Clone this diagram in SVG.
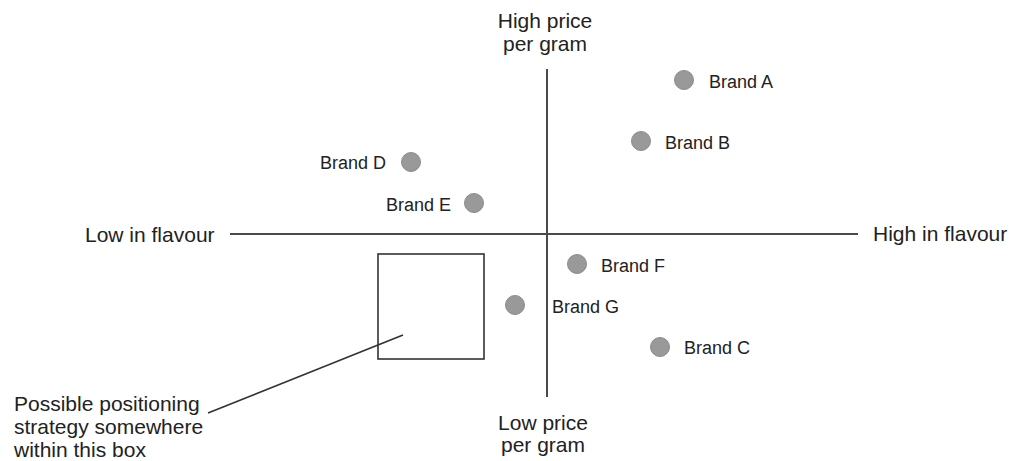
<svg xmlns="http://www.w3.org/2000/svg" width="1014" height="461" viewBox="0 0 1014 461">
  <style>
    .axis { stroke: #4a4a4a; stroke-width: 2; fill: none; }
    .lbl { font-family: "Liberation Sans", Arial, sans-serif; font-size: 21px; fill: #222; }
    .brand { font-family: "Liberation Sans", Arial, sans-serif; font-size: 18px; fill: #222; }
    .dot { fill: #999; stroke: #8c8c8c; stroke-width: 1; }
    .box { fill: none; stroke: #333; stroke-width: 1.6; }
    .leader { stroke: #333; stroke-width: 1.6; fill: none; }
  </style>
  <rect width="1014" height="461" fill="#fff"/>

  <!-- axes and leader line -->
  <g id="connectors">
    <line class="axis" x1="547" y1="69" x2="547" y2="397"/>
    <line class="axis" x1="230" y1="234" x2="858" y2="234"/>
    <line class="leader" x1="403" y1="335" x2="208" y2="413"/>
  </g>

  <!-- axis labels -->
  <g id="axis-top">
    <text class="lbl" text-anchor="middle" x="545" y="28">High price</text>
    <text class="lbl" text-anchor="middle" x="545" y="51">per gram</text>
  </g>
  <g id="axis-bottom">
    <text class="lbl" text-anchor="middle" x="543" y="430">Low price</text>
    <text class="lbl" text-anchor="middle" x="543" y="452">per gram</text>
  </g>
  <g id="axis-left">
    <text class="lbl" x="85" y="242">Low in flavour</text>
  </g>
  <g id="axis-right">
    <text class="lbl" x="873" y="241">High in flavour</text>
  </g>

  <!-- brands -->
  <g id="brand-a">
    <circle class="dot" cx="684" cy="80" r="9.5"/>
    <text class="brand" x="709" y="88">Brand A</text>
  </g>
  <g id="brand-b">
    <circle class="dot" cx="641" cy="141" r="9.5"/>
    <text class="brand" x="665" y="149">Brand B</text>
  </g>
  <g id="brand-c">
    <circle class="dot" cx="660" cy="347" r="9.5"/>
    <text class="brand" x="684" y="354">Brand C</text>
  </g>
  <g id="brand-d">
    <circle class="dot" cx="411" cy="162" r="9.5"/>
    <text class="brand" x="386" y="169" text-anchor="end">Brand D</text>
  </g>
  <g id="brand-e">
    <circle class="dot" cx="474" cy="203" r="9.5"/>
    <text class="brand" x="451" y="211" text-anchor="end">Brand E</text>
  </g>
  <g id="brand-f">
    <circle class="dot" cx="577" cy="264" r="9.5"/>
    <text class="brand" x="601" y="272">Brand F</text>
  </g>
  <g id="brand-g">
    <circle class="dot" cx="515" cy="305" r="9.5"/>
    <text class="brand" x="552" y="313">Brand G</text>
  </g>

  <!-- target positioning box -->
  <g id="positioning-box">
    <rect class="box" x="378" y="254" width="106" height="105"/>
  </g>
  <g id="positioning-note">
    <text class="lbl" x="14" y="411">Possible positioning</text>
    <text class="lbl" x="14" y="434">strategy somewhere</text>
    <text class="lbl" x="14" y="457">within this box</text>
  </g>
</svg>
